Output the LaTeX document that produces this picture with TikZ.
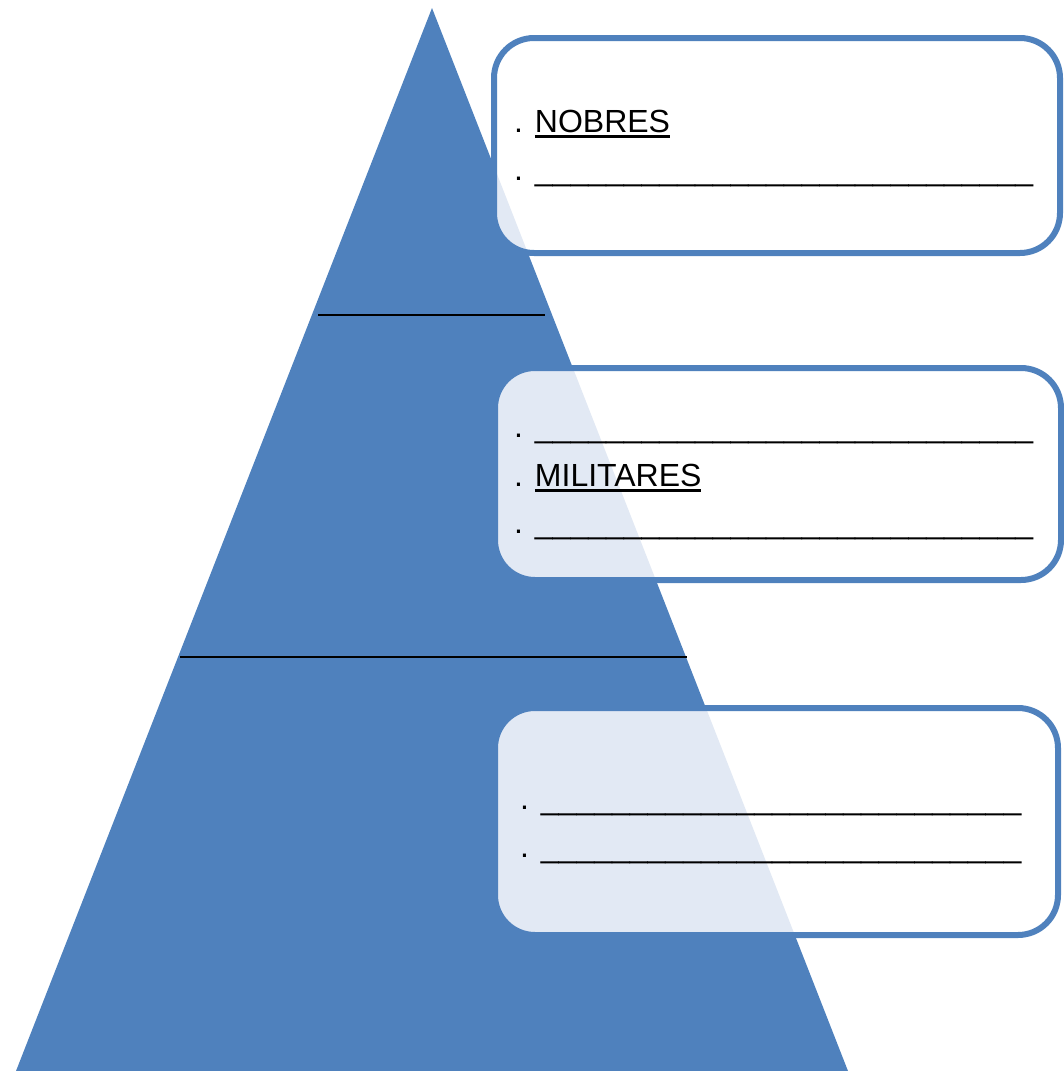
\documentclass[tikz,border=0pt]{standalone}
\usepackage{fontspec}
\setmainfont{Liberation Sans}
\definecolor{tri}{HTML}{4F81BD}
\definecolor{tint}{RGB}{226,233,244}
\newcommand\myul[1]{\setbox0\hbox{#1}\rlap{\rule[-6pt]{\wd0}{2.8pt}}\box0}
\newcommand\blanksA{\_\_\_\_\_\_\_\_\_\_\_\_\_\_\_\_\_\_\_\_\_\_\_\_\_\_\_\_}
\newcommand\blanksB{\_\_\_\_\_\_\_\_\_\_\_\_\_\_\_\_\_\_\_\_\_\_\_\_\_\_\_}
\begin{document}
\begin{tikzpicture}[x=1pt,y=-1pt,
  txt/.style={anchor=base west,inner sep=0pt,font=\fontsize{32}{38}\selectfont},
  boxborder/.style={draw=tri,line width=6pt,rounded corners=40pt},
  boxshape/.style={rounded corners=40pt},
  divider/.style={line width=2.2pt}]
\useasboundingbox (0,0) rectangle (1064,1071);
\def\tripath{(432,8) -- (848,1071) -- (16,1071) -- cycle}
\fill[tri] \tripath;
\coordinate (l1a) at (318,315); \coordinate (l1b) at (545,315);
\coordinate (l2a) at (180,657); \coordinate (l2b) at (687,657);
\draw[divider] (l1a) -- (l1b);
\draw[divider] (l2a) -- (l2b);
% boxes
\foreach \xa/\ya/\xb/\yb in {494/38/1060/253, 495/368/1061/580, 495/708/1058/935}{
  \fill[white,boxshape] (\xa,\ya) rectangle (\xb,\yb);
  \begin{scope}
    \clip[boxshape] (\xa,\ya) rectangle (\xb,\yb);
    \fill[tint] \tripath;
  \end{scope}
  \draw[boxborder] (\xa,\ya) rectangle (\xb,\yb);
}
% texts
\node[txt] (t1) at (514,132) {. \myul{NOBRES}};
\node[txt] (t2) at (514,180) {. \blanksA};
\node[txt] (t3) at (514,437) {. \blanksA};
\node[txt] (t4) at (514,486) {. \myul{MILITARES}};
\node[txt] (t5) at (514,533) {. \blanksA};
\node[txt] (t6) at (520,809) {. \blanksB};
\node[txt] (t7) at (520,857) {. \blanksB};
\end{tikzpicture}
\end{document}
